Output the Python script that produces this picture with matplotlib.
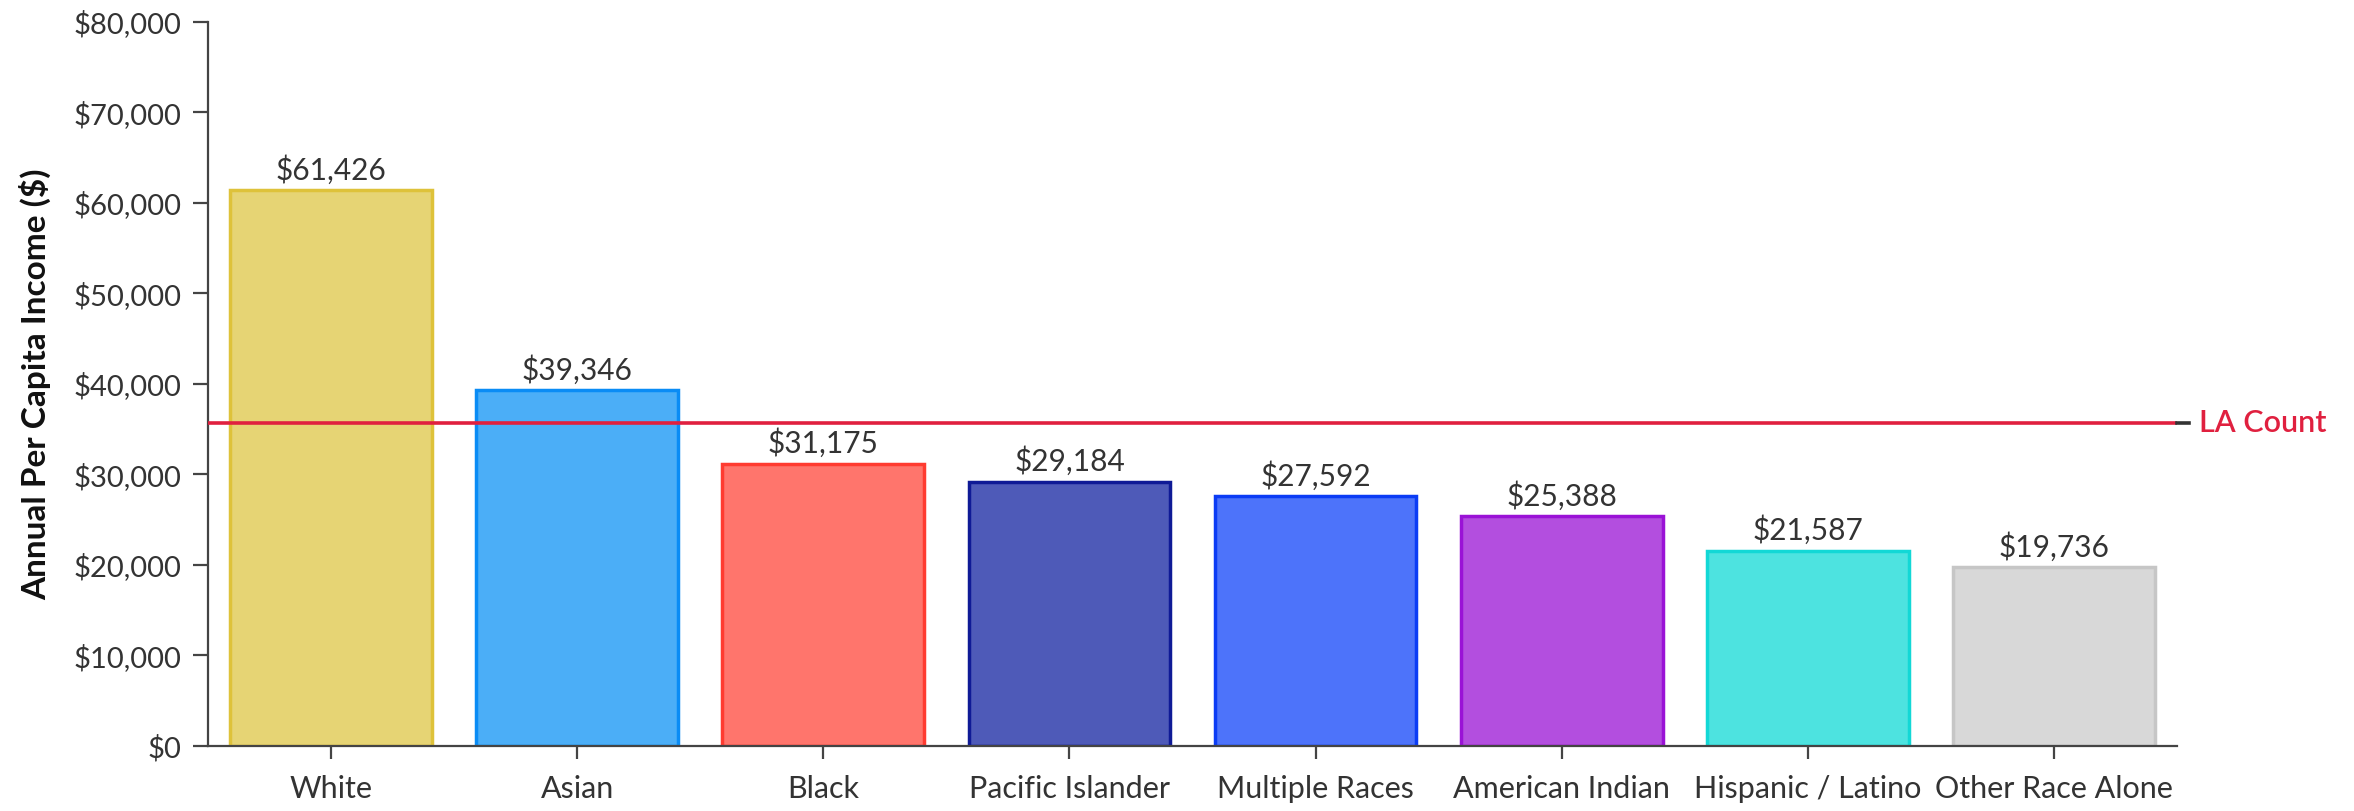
import numpy as np
import matplotlib.pyplot as plt
from matplotlib.ticker import FuncFormatter

plt.rcParams['font.family'] = ['Lato', 'DejaVu Sans']

groups = ["White", "Asian", "Black", "Pacific Islander", "Multiple Races",
          "American Indian", "Hispanic / Latino", "Other Race Alone"]
income = [61426, 39346, 31175, 29184, 27592, 25388, 21587, 19736]
fill_colors = ["#E6D474", "#4BAEF7", "#FF756C", "#4E5AB8",
               "#4D73FA", "#B34EDF", "#4DE3E0", "#D8D8D8"]
edge_colors = ["#DEC23A", "#0A8CF5", "#FF3B30", "#0F1A96",
               "#0B3CF5", "#9A12D6", "#12D8D6", "#C6C6C6"]
la_count = 35700

fig = plt.figure(figsize=(23.54, 8.11), dpi=100)
ax = fig.add_axes([0.0884, 0.0802, 0.8364, 0.8928])

x = np.arange(len(groups))
ax.bar(x, income, width=0.82, color=fill_colors, edgecolor=edge_colors, linewidth=2.5)

for xi, v in zip(x, income):
    ax.annotate(f"${v:,}", (xi, v), xytext=(0, 4), textcoords="offset points",
                ha="center", va="bottom", fontsize=21.5, color="#333333")

# LA county reference line
ax.axhline(la_count, color="#E0203F", linewidth=2.6, zorder=5)
ax.plot([1.0, 1.006], [la_count, la_count], transform=ax.get_yaxis_transform(),
        color="#333333", linewidth=2.6, clip_on=False, zorder=6)
ax.text(1.011, la_count, "LA Count", transform=ax.get_yaxis_transform(),
        ha="left", va="center", fontsize=22, color="#E0203F", fontweight="semibold")

ax.set_xlim(-0.5, len(groups) - 0.5)
ax.set_ylim(0, 80000)
ax.set_yticks(np.arange(0, 80001, 10000))
ax.yaxis.set_major_formatter(FuncFormatter(lambda v, p: f"${v:,.0f}"))
ax.set_xticks(x)
ax.set_xticklabels(groups)

for s in ["top", "right"]:
    ax.spines[s].set_visible(False)
for s in ["left", "bottom"]:
    ax.spines[s].set_color("#444444")
    ax.spines[s].set_linewidth(1.6)

ax.tick_params(axis="y", length=11, width=1.6, color="#444444", pad=8,
               labelsize=21, labelcolor="#333333")
ax.tick_params(axis="x", length=9, width=1.6, color="#444444", pad=12,
               labelsize=22, labelcolor="#333333")

ax.set_ylabel("Annual Per Capita Income ($)", fontsize=24, fontweight="bold",
              color="#111111", labelpad=16)

fig.savefig("out.png", dpi=100)
